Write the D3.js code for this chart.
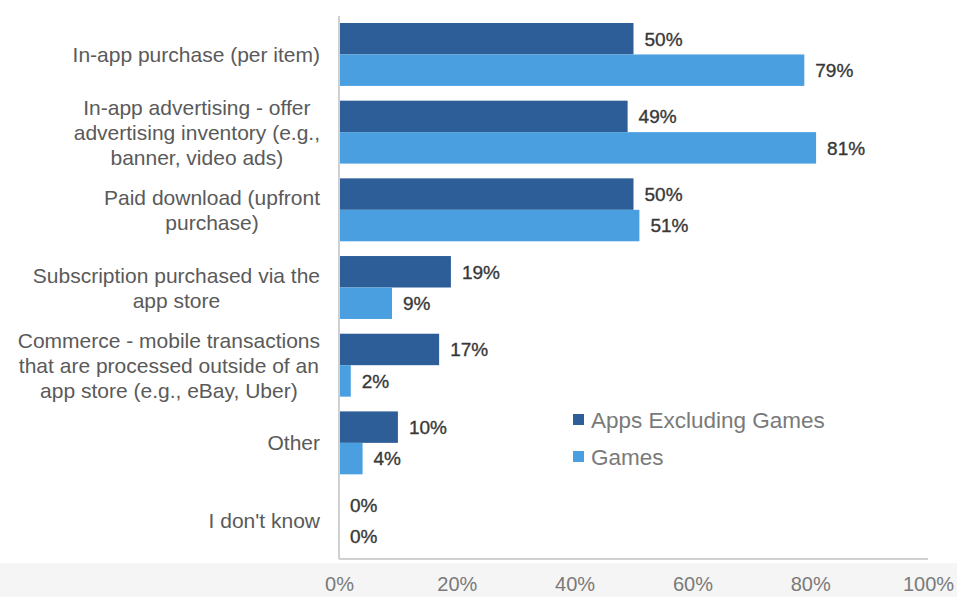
<!DOCTYPE html>
<html>
<head>
<meta charset="utf-8">
<script src="https://cdn.jsdelivr.net/npm/d3@7/dist/d3.min.js"></script>
<style>
  html, body { margin: 0; padding: 0; background: #fff; }
  svg { display: block; font-family: "Liberation Sans", Arial, Helvetica, sans-serif; }
</style>
</head>
<body>
<svg id="chart" width="957" height="597"></svg>
<script>
// Monetization models: share of respondents, apps vs. games
const categories = [
  ["In-app purchase (per item)"],
  ["In-app advertising - offer", "advertising inventory (e.g.,", "banner, video ads)"],
  ["Paid download (upfront", "purchase)"],
  ["Subscription purchased via the", "app store"],
  ["Commerce - mobile transactions", "that are processed outside of an", "app store (e.g., eBay, Uber)"],
  ["Other"],
  ["I don't know"]
];
const seriesNames = ["Apps Excluding Games", "Games"];
const appsValues = [50, 49, 50, 19, 17, 10, 0];
const gamesValues = [79, 81, 51, 9, 2, 4, 0];
const xTicks = [0, 20, 40, 60, 80, 100];
const colors = ["#2d5e98", "#4a9fe0"];

const svg = d3.select("#chart");
const W = 957, H = 597;
const plot = { left: 339, right: 928, top: 16, bottom: 559 };

// light grey strip behind the axis labels
svg.append("rect").attr("x", 0).attr("y", 563).attr("width", W).attr("height", H - 563)
  .attr("fill", "#f5f5f5");

const x = d3.scaleLinear().domain([0, 100]).range([plot.left, plot.right]);
const y = d3.scaleBand().domain(d3.range(categories.length))
  .range([plot.top, plot.bottom]).paddingInner(0.19).paddingOuter(0.09);
const sub = d3.scaleBand().domain([0, 1]).range([0, y.bandwidth()]);

const rows = categories.map((c, i) => ({ i, label: c, vals: [appsValues[i], gamesValues[i]] }));

// bars with value labels
const g = svg.append("g");
rows.forEach(r => {
  r.vals.forEach((v, s) => {
    const by = y(r.i) + sub(s);
    g.append("rect")
      .attr("x", x(0)).attr("y", by)
      .attr("width", x(v) - x(0)).attr("height", sub.bandwidth())
      .attr("fill", colors[s]);
    g.append("text")
      .attr("x", x(v) + 11).attr("y", by + sub.bandwidth() / 2)
      .attr("dy", "0.36em")
      .attr("font-size", 19).attr("fill", "#383838")
      .attr("stroke", "#383838").attr("stroke-width", 0.35)
      .text(v + "%");
  });
});

// axis lines
svg.append("line").attr("x1", x(0)).attr("x2", x(0)).attr("y1", plot.top).attr("y2", plot.bottom)
  .attr("stroke", "#d0d0d0").attr("stroke-width", 2);
svg.append("line").attr("x1", x(0)).attr("x2", x(100)).attr("y1", plot.bottom).attr("y2", plot.bottom)
  .attr("stroke", "#d0d0d0").attr("stroke-width", 2);

// x tick labels
const xAxis = d3.axisBottom(x).tickValues(xTicks).tickSize(0).tickPadding(0)
  .tickFormat(d => d + "%");
const ax = svg.append("g").attr("transform", `translate(0,${plot.bottom + 18})`).call(xAxis);
ax.select(".domain").remove();
ax.selectAll("text").attr("font-size", 20).attr("fill", "#7a7a7a")
  .attr("font-family", "Liberation Sans, Arial, sans-serif");

// category labels: multi-line block, lines centred, block right-aligned
const lineH = 25, labelRight = 320;
rows.forEach(r => {
  const t = svg.append("text").attr("font-size", 21).attr("fill", "#5a5a5a").attr("text-anchor", "middle");
  const n = r.label.length;
  const cy = y(r.i) + y.bandwidth() / 2;
  const spans = r.label.map((line, k) =>
    t.append("tspan").attr("y", cy + (k - (n - 1) / 2) * lineH).attr("dy", "0.36em").text(line));
  const maxW = d3.max(spans, s => s.node().getComputedTextLength());
  spans.forEach(s => s.attr("x", labelRight - maxW / 2));
});

// legend
const legend = svg.append("g").attr("transform", "translate(573,420)");
seriesNames.forEach((name, s) => {
  const ly = s * 37;
  legend.append("rect").attr("x", 0).attr("y", ly - 6).attr("width", 11).attr("height", 11)
    .attr("fill", colors[s]);
  legend.append("text").attr("x", 18).attr("y", ly).attr("dy", "0.36em")
    .attr("font-size", 22.5).attr("fill", "#7a7a7a").text(name);
});
</script>
</body>
</html>
